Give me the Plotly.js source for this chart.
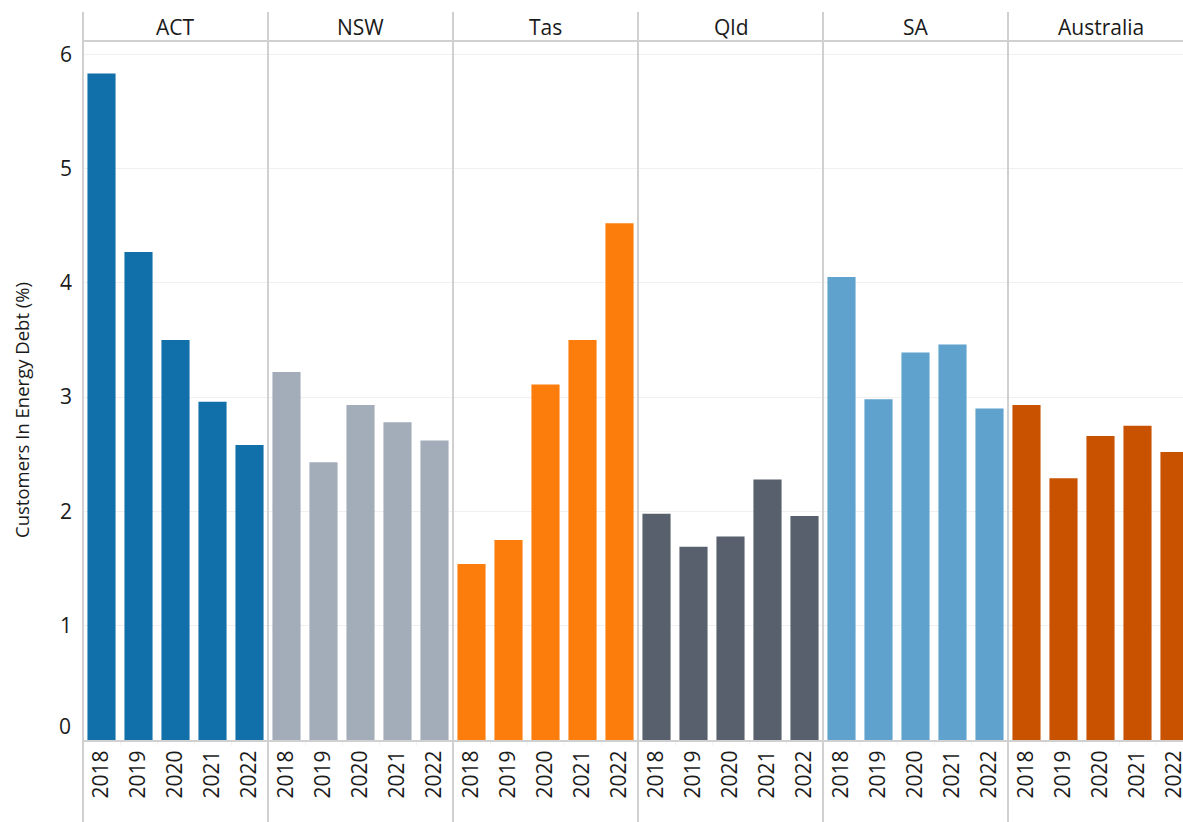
<!DOCTYPE html>
<html>
<head>
<meta charset="utf-8">
<script src="https://cdn.plot.ly/plotly-3.0.1.min.js"></script>
<style>html,body{margin:0;padding:0;overflow:hidden;background:#fff}</style>
</head>
<body>
<div id="chart" style="width:1183px;height:822px"></div>
<script>
const regions = ["ACT", "NSW", "Tas", "Qld", "SA", "Australia"];
const years = ["2018", "2019", "2020", "2021", "2022"];
const colors = ["#1170aa", "#a3acb9", "#fc7d0b", "#57606c", "#5fa2ce", "#c85200"];
const actValues = [5.83, 4.27, 3.50, 2.96, 2.58];
const nswValues = [3.22, 2.43, 2.93, 2.78, 2.62];
const tasValues = [1.54, 1.75, 3.11, 3.50, 4.52];
const qldValues = [1.98, 1.69, 1.78, 2.28, 1.96];
const saValues = [4.05, 2.98, 3.39, 3.46, 2.90];
const ausValues = [2.93, 2.29, 2.66, 2.75, 2.52];
const values = [actValues, nswValues, tasValues, qldValues, saValues, ausValues];
const yTickVals = [0, 1, 2, 3, 4, 5, 6];
const yTitle = "Customers In Energy Debt (%)";

const W = 1183, H = 822;
const mL = 83, mR = 0, mT = 41, mB = 82;
const plotW = W - mL - mR, plotH = H - mT - mB;
const facetPx = 185;
const font = "Open Sans, Noto Sans, sans-serif";
const txt = "#1a1a1a";

const data = [];
const layout = {
  width: W, height: H,
  margin: {l: mL, r: mR, t: mT, b: mB, pad: 0},
  paper_bgcolor: "#fff", plot_bgcolor: "#fff",
  showlegend: false,
  bargap: 0.24,
  font: {family: font, color: txt, size: 16},
  yaxis: {
    range: [0, 6.115],
    tickvals: yTickVals.filter(v => v !== 0),
    showgrid: true, gridcolor: "#f0f0f0", gridwidth: 1,
    zeroline: false, showline: false,
    ticks: "", ticklabelstandoff: 10,
    tickfont: {size: 21, family: font, color: txt}
  },
  shapes: [], annotations: []
};

// zero tick label, lifted above the axis line as in the reference
layout.annotations.push({
  text: String(yTickVals[0]), xref: "paper", yref: "y", x: 0, y: yTickVals[0],
  xanchor: "right", yanchor: "middle", xshift: -10, yshift: 14, showarrow: false,
  font: {size: 21, family: font, color: txt}
});
// y-axis title
layout.annotations.push({
  text: yTitle, xref: "paper", yref: "paper", x: 0, y: (740 - 410) / plotH,
  xanchor: "center", yanchor: "middle", xshift: -62, textangle: -90, showarrow: false,
  font: {size: 18.5, family: font, color: txt}
});

regions.forEach((r, i) => {
  const ax = i === 0 ? "x" : "x" + (i + 1);
  const axKey = i === 0 ? "xaxis" : "xaxis" + (i + 1);
  const x0px = facetPx * i;
  const x1px = Math.min(facetPx * (i + 1), plotW);
  const d0 = x0px / plotW, d1 = x1px / plotW;
  const nCat = (x1px - x0px) / 37;
  data.push({
    type: "bar", x: years, y: values[i], xaxis: ax, yaxis: "y",
    marker: {color: colors[i]}, hoverinfo: "x+y", name: r
  });
  layout[axKey] = {
    domain: [d0, d1], anchor: "y", type: "category",
    range: [-0.5, -0.5 + nCat],
    showline: true, linecolor: "#d0d0d0", linewidth: 2,
    showgrid: false, zeroline: false,
    ticks: "outside", tickson: "boundaries", ticklen: 3, tickcolor: "#f0f0f0",
    tickangle: -90, ticklabelstandoff: 0,
    tickfont: {size: 21, family: font, color: txt}
  };
  layout.annotations.push({
    text: r, xref: "paper", yref: "paper",
    x: (x0px + facetPx / 2) / plotW, y: 1 + 14 / plotH,
    xanchor: "center", yanchor: "middle", showarrow: false,
    font: {size: 21, family: font, color: txt}
  });
  layout.shapes.push({
    type: "line", xref: "paper", yref: "paper",
    x0: d0, x1: d0, y0: -mB / plotH, y1: 1 + 29 / plotH,
    line: {color: "#d0d0d0", width: 2}
  });
});
layout.shapes.push({
  type: "line", xref: "paper", yref: "paper",
  x0: 0, x1: 1, y0: 1, y1: 1,
  line: {color: "#d0d0d0", width: 2}
});

Plotly.newPlot("chart", data, layout, {displayModeBar: false, staticPlot: true});
</script>
</body>
</html>
